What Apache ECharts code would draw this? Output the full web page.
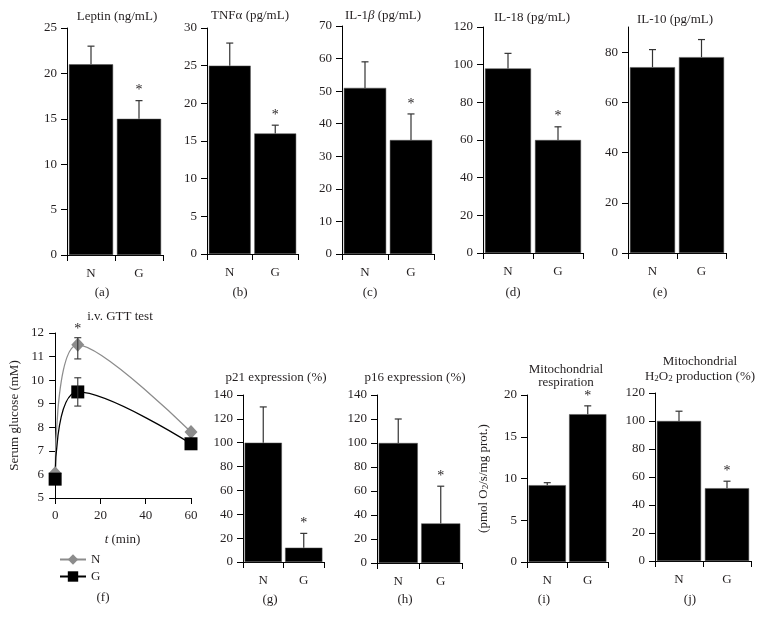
<!DOCTYPE html>
<html>
<head>
<meta charset="utf-8">
<script src="https://cdn.jsdelivr.net/npm/echarts@6/dist/echarts.min.js"></script>
<style>
html,body{margin:0;padding:0;background:#fff;}
#chart{width:766px;height:626px;}
</style>
</head>
<body>
<div id="chart"></div>
<script>
// ---------- data ----------
const categories = ['N', 'G'];
const leptinMean = [21, 15],   leptinUpper = [23, 17];
const tnfMean    = [25, 16],   tnfUpper    = [28, 17.1];
const il1bMean   = [51, 35],   il1bUpper   = [59, 43];
const il18Mean   = [98, 60],   il18Upper   = [106, 67];
const il10Mean   = [74, 78],   il10Upper   = [81, 85];
const p21Mean    = [100, 12],  p21Upper    = [130, 24];
const p16Mean    = [100, 33],  p16Upper    = [120, 64];
const respMean   = [9.2, 17.7],respUpper   = [9.5, 18.7];
const h2o2Mean   = [100, 52],  h2o2Upper   = [107, 57];
const starG      = [false, true];
const starNone   = [false, false];

const gttTime  = [0, 10, 60];
const gttN     = [6.05, 11.5, 7.8];
const gttG     = [5.8, 9.5, 7.3];
const gttNLow  = [null, 10.9, null], gttNHigh = [null, 11.8, null];
const gttGLow  = [null, 8.9, null],  gttGHigh = [null, 10.1, null];
const gttStar  = [false, true, false];

const leptinTicks = [0, 25, 5];
const tnfTicks    = [0, 30, 5];
const il1bTicks   = [0, 70, 10];
const il18Ticks   = [0, 120, 20];
const il10Ticks   = [0, 90, 20];
const il10Labels  = [0, 20, 40, 60, 80];
const p21Ticks    = [0, 140, 20];
const p16Ticks    = [0, 140, 20];
const respTicks   = [0, 20, 5];
const h2o2Ticks   = [0, 120, 20];
const gttYTicks   = [5, 12, 1];
const gttXLabels  = [0, 20, 40, 60];

// ---------- layout/style ----------
const FONT = '"Liberation Serif", "DejaVu Serif", serif';
const TXT = '#231f20';
const chart = echarts.init(document.getElementById('chart'));

const panels = [
  {mean: leptinMean, upper: leptinUpper, ticks: leptinTicks, star: starG,   rect: [67, 28, 96, 227]},
  {mean: tnfMean,    upper: tnfUpper,    ticks: tnfTicks,    star: starG,   rect: [207, 28, 91, 226]},
  {mean: il1bMean,   upper: il1bUpper,   ticks: il1bTicks,   star: starG,   rect: [342, 26, 92, 228]},
  {mean: il18Mean,   upper: il18Upper,   ticks: il18Ticks,   star: starG,   rect: [483, 27, 100, 226]},
  {mean: il10Mean,   upper: il10Upper,   ticks: il10Ticks,   star: starNone, rect: [628, 27, 98, 226], labels: il10Labels},
  {mean: p21Mean,    upper: p21Upper,    ticks: p21Ticks,    star: starG,   rect: [243, 395, 81, 167]},
  {mean: p16Mean,    upper: p16Upper,    ticks: p16Ticks,    star: starG,   rect: [377, 395, 85, 168]},
  {mean: respMean,   upper: respUpper,   ticks: respTicks,   star: starG,   rect: [527, 395, 81, 167],
    yName: '(pmol O{sub|2}/s/mg prot.)'},
  {mean: h2o2Mean,   upper: h2o2Upper,   ticks: h2o2Ticks,   star: starG,   rect: [655, 393, 96, 168]}
];

const grid = [], xAxis = [], yAxis = [], series = [];
const axisLineStyle = {show: true, lineStyle: {color: '#000', width: 1}};
const tickStyle = {show: true, length: 6, lineStyle: {color: '#000', width: 1}};

panels.forEach((p, i) => {
  grid.push({left: p.rect[0], top: p.rect[1], width: p.rect[2], height: p.rect[3]});
  xAxis.push({
    type: 'category', gridIndex: i, data: categories,
    axisLine: axisLineStyle, axisTick: tickStyle,
    axisLabel: {color: TXT, fontFamily: FONT, fontSize: 13, margin: 12},
    splitLine: {show: false}
  });
  const ya = {
    type: 'value', gridIndex: i, min: p.ticks[0], max: p.ticks[1], interval: p.ticks[2],
    axisLine: axisLineStyle,
    axisTick: Object.assign({}, tickStyle),
    axisLabel: {color: TXT, fontFamily: FONT, fontSize: 13, margin: 10},
    splitLine: {show: false}
  };
  if (p.labels) {
    ya.axisTick.customValues = p.labels;
    ya.axisLabel.customValues = p.labels;
  }
  if (p.yName) {
    ya.name = p.yName;
    ya.nameLocation = 'middle';
    ya.nameRotate = 90;
    ya.nameGap = 37;
    ya.nameTextStyle = {
      color: TXT, fontFamily: FONT, fontSize: 13,
      rich: {sub: {fontSize: 9, fontFamily: FONT, color: TXT, verticalAlign: 'bottom', lineHeight: 8}}
    };
  }
  yAxis.push(ya);
  series.push({
    type: 'bar', xAxisIndex: i, yAxisIndex: i, data: p.mean,
    barCategoryGap: '8%', itemStyle: {color: '#000', borderColor: '#555', borderWidth: 0.5},
    silent: true, animation: false
  });
  series.push({
    type: 'custom', xAxisIndex: i, yAxisIndex: i, z: 5, animation: false, silent: true,
    data: categories.map((c, k) => [k, p.mean[k], p.upper[k], p.star[k] ? 1 : 0]),
    renderItem: function (params, api) {
      const k = api.value(0);
      const lo = api.coord([k, api.value(1)]);
      const hi = api.coord([k, api.value(2)]);
      const children = [
        {type: 'line', shape: {x1: lo[0], y1: lo[1], x2: hi[0], y2: hi[1]}, style: {stroke: '#333', lineWidth: 1.2}},
        {type: 'line', shape: {x1: hi[0] - 3.5, y1: hi[1], x2: hi[0] + 3.5, y2: hi[1]}, style: {stroke: '#333', lineWidth: 1.2}}
      ];
      if (api.value(3)) {
        children.push({type: 'text', style: {text: '*', x: hi[0], y: hi[1] - 3, fill: TXT, font: '14px ' + FONT, textAlign: 'center', textVerticalAlign: 'bottom'}});
      }
      return {type: 'group', children: children};
    }
  });
});

// ---------- GTT panel (f) ----------
const gi = panels.length;
grid.push({left: 54, top: 333, width: 137, height: 165});
xAxis.push({
  type: 'value', gridIndex: gi, min: -0.5, max: 60,
  axisLine: axisLineStyle,
  axisTick: Object.assign({}, tickStyle, {customValues: gttXLabels}),
  axisLabel: {color: TXT, fontFamily: FONT, fontSize: 13, margin: 11, customValues: gttXLabels},
  splitLine: {show: false},
  name: '{i|t} (min)', nameLocation: 'middle', nameGap: 35,
  nameTextStyle: {color: TXT, fontFamily: FONT, fontSize: 13, rich: {i: {fontStyle: 'italic', fontFamily: FONT, fontSize: 13, color: TXT}}}
});
yAxis.push({
  type: 'value', gridIndex: gi, min: gttYTicks[0], max: gttYTicks[1], interval: gttYTicks[2],
  axisLine: axisLineStyle, axisTick: tickStyle,
  axisLabel: {color: TXT, fontFamily: FONT, fontSize: 13, margin: 10},
  splitLine: {show: false},
  name: 'Serum glucose (mM)', nameLocation: 'middle', nameRotate: 90, nameGap: 33,
  nameTextStyle: {color: TXT, fontFamily: FONT, fontSize: 13}
});
function errSeries(low, high, color) {
  return {
    type: 'custom', xAxisIndex: gi, yAxisIndex: gi, z: 4, animation: false, silent: true,
    data: gttTime.map((t, k) => [t, low[k], high[k], gttStar[k] && color === '#8c8c8c' ? 1 : 0]).filter(d => d[1] !== null),
    renderItem: function (params, api) {
      const a = api.coord([api.value(0), api.value(1)]);
      const b = api.coord([api.value(0), api.value(2)]);
      const st = {stroke: '#333', lineWidth: 1.1};
      const ch = [
        {type: 'line', shape: {x1: a[0], y1: a[1], x2: b[0], y2: b[1]}, style: st},
        {type: 'line', shape: {x1: a[0] - 3.5, y1: a[1], x2: a[0] + 3.5, y2: a[1]}, style: st},
        {type: 'line', shape: {x1: b[0] - 3.5, y1: b[1], x2: b[0] + 3.5, y2: b[1]}, style: st}
      ];
      if (api.value(3)) ch.push({type: 'text', style: {text: '*', x: b[0], y: b[1] - 1, fill: TXT, font: '14px ' + FONT, textAlign: 'center', textVerticalAlign: 'bottom'}});
      return {type: 'group', children: ch};
    }
  };
}
series.push({
  name: 'N', type: 'line', xAxisIndex: gi, yAxisIndex: gi, z: 3, animation: false,
  data: gttTime.map((t, k) => [t, gttN[k]]), smooth: 0.5,
  symbol: 'diamond', symbolSize: [13, 14], showSymbol: true,
  itemStyle: {color: '#8c8c8c'}, lineStyle: {color: '#8c8c8c', width: 1.3}
});
series.push(errSeries(gttNLow, gttNHigh, '#8c8c8c'));
series.push({
  name: 'G', type: 'line', xAxisIndex: gi, yAxisIndex: gi, z: 3, animation: false,
  data: gttTime.map((t, k) => [t, gttG[k]]), smooth: 0.5,
  symbol: 'rect', symbolSize: 13, showSymbol: true,
  itemStyle: {color: '#000'}, lineStyle: {color: '#000', width: 1.3}
});
series.push(errSeries(gttGLow, gttGHigh, '#000'));

// ---------- text ----------
function t(text, x, y, extra) {
  return Object.assign({
    type: 'text', x: x, y: y, silent: true,
    style: Object.assign({text: text, fill: TXT, font: '13px ' + FONT, textAlign: 'center', textVerticalAlign: 'middle',
      rich: {
        i: {fontStyle: 'italic', fontSize: 13, fontFamily: FONT, fill: TXT},
        sub: {fontSize: 9, fontFamily: FONT, fill: TXT, verticalAlign: 'bottom', lineHeight: 8}
      }}, extra || {})
  });
}
const graphic = [
  t('Leptin (ng/mL)', 117, 17),
  t('TNFα (pg/mL)', 250, 16),
  t('IL-1{i|β} (pg/mL)', 383, 16),
  t('IL-18 (pg/mL)', 532, 18),
  t('IL-10 (pg/mL)', 675, 20),
  t('(a)', 102, 293), t('(b)', 240, 293), t('(c)', 370, 293), t('(d)', 513, 293), t('(e)', 660, 293),
  t('i.v. GTT test', 120, 317),
  t('p21 expression (%)', 276, 378),
  t('p16 expression (%)', 415, 378),
  t('Mitochondrial', 566, 370),
  t('respiration', 566, 383),
  t('Mitochondrial', 700, 362),
  t('H{sub|2}O{sub|2} production (%)', 700, 377),
  t('(f)', 103, 598), t('(g)', 270, 600), t('(h)', 405, 600), t('(i)', 544, 600), t('(j)', 690, 600)
];

chart.setOption({
  animation: false,
  backgroundColor: '#fff',
  grid: grid, xAxis: xAxis, yAxis: yAxis, series: series,
  graphic: graphic,
  legend: {
    data: ['N', 'G'], orient: 'vertical', left: 54, top: 548, itemGap: 4,
    itemWidth: 26, itemHeight: 13, selectedMode: false,
    textStyle: {color: TXT, fontFamily: FONT, fontSize: 13}
  }
});
</script>
</body>
</html>
